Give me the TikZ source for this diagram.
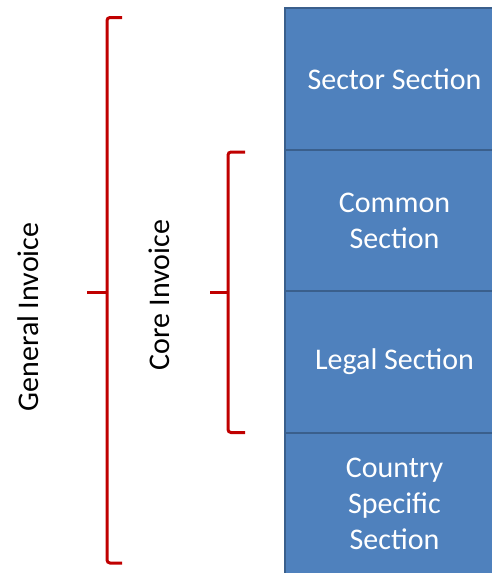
\documentclass[tikz,border=0pt]{standalone}
\usepackage{fontspec}
\setmainfont{Carlito}
\definecolor{boxblue}{HTML}{4F81BD}
\definecolor{boxedge}{HTML}{3A5F8C}
\definecolor{brred}{HTML}{C00000}
\begin{document}
\begin{tikzpicture}[x=1pt,y=-1pt,
  section/.style={rectangle,fill=boxblue,draw=boxedge,line width=2pt,
    minimum width=219pt,minimum height=141.5pt,inner sep=0pt,
    text=white,align=center,font=\fontsize{30}{36}\selectfont},
  brace/.style={draw=brred,line width=3pt,rounded corners=3pt},
  sidelabel/.style={rotate=90,font=\fontsize{30}{36}\selectfont,text=black}]
\useasboundingbox (0,0) rectangle (492,573);
\begin{scope}
\clip (0,0) rectangle (492,573);
\node[section] (sector) at (394.5,79) {Sector Section};
\node[section] (common) at (394.5,221) {Common\\Section};
\node[section] (legal) at (394.5,362) {Legal Section};
\node[section] (country) at (394.5,504) {Country\\Specific\\Section};
\end{scope}
% General Invoice bracket
\coordinate (gt) at (122,17.5);
\coordinate (gb) at (122,563);
\coordinate (gm) at (87,292);
\draw[brace] (gt) -- (107,17.5) -- (107,563) -- (gb);
\draw[brace] (gm) -- (107,292);
% Core Invoice bracket
\coordinate (ct) at (245,152);
\coordinate (cb) at (245,432.5);
\coordinate (cm) at (210,292);
\draw[brace] (ct) -- (228,152) -- (228,432.5) -- (cb);
\draw[brace] (cm) -- (228,292);
\node[sidelabel] (general) at (28,317) {General Invoice};
\node[sidelabel] (core) at (159.5,295) {Core Invoice};
\end{tikzpicture}
\end{document}
